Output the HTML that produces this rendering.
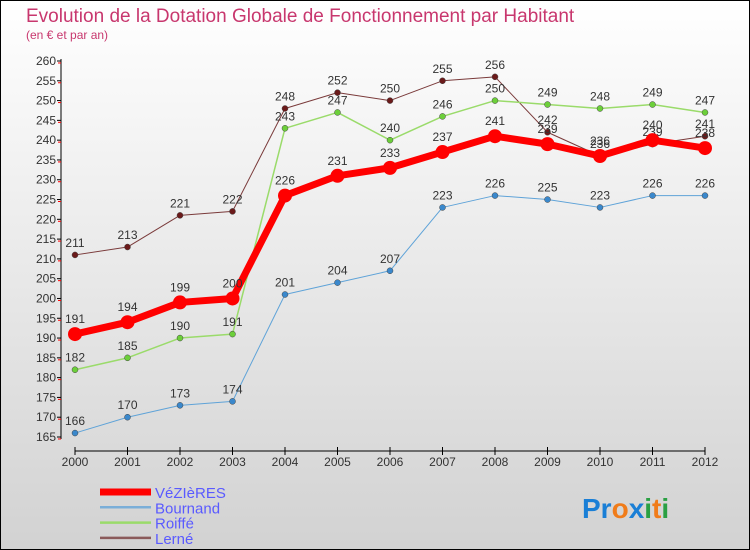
<!DOCTYPE html>
<html><head><meta charset="utf-8"><style>
body{margin:0}
#c{width:750px;height:550px;position:relative;background:linear-gradient(#fff,#d2d2d2);box-sizing:border-box;border:1px solid #000;font-family:"Liberation Sans",sans-serif;overflow:hidden}
</style></head><body>
<div id="c">
<svg id="s" width="750" height="550" style="position:absolute;left:-1px;top:-1px">
<text x="26" y="22" font-size="19" fill="#c8376e">Evolution de la Dotation Globale de Fonctionnement par Habitant</text>
<text x="26" y="39" font-size="12" fill="#c8376e">(en € et par an)</text>
<g id="ax"></g><g id="ser"></g><g id="leg"></g>
<text x="582" y="518" font-size="28" font-weight="bold"><tspan fill="#1a7fd6">Pr</tspan><tspan fill="#f07c1a">o</tspan><tspan fill="#1a7fd6">x</tspan><tspan fill="#2aa043">i</tspan><tspan fill="#f07c1a">t</tspan><tspan fill="#2aa043">i</tspan></text>
</svg></div>
<script>
const years=[2000,2001,2002,2003,2004,2005,2006,2007,2008,2009,2010,2011,2012];
const vezieres=[191,194,199,200,226,231,233,237,241,239,236,240,238];
const bournand=[166,170,173,174,201,204,207,223,226,225,223,226,226];
const roiffe=[182,185,190,191,243,247,240,246,250,249,248,249,247];
const lerne=[211,213,221,222,248,252,250,255,256,242,236,239,241];
const yTicks=[165,170,175,180,185,190,195,200,205,210,215,220,225,230,235,240,245,250,255,260];
const NS="http://www.w3.org/2000/svg";
const X=i=>75+i*(630/12), Y=v=>437-(v-165)*(376/95);
function mk(t,a,p,txt){const e=document.createElementNS(NS,t);for(const k in a)e.setAttribute(k,a[k]);if(txt!==undefined)e.textContent=txt;p.appendChild(e);return e;}
const ax=document.getElementById('ax');
let e=mk('line',{x1:61,y1:59,x2:61,y2:439,stroke:'#000'},ax);

yTicks.forEach(v=>{const y=Y(v);mk('line',{x1:57,y1:y,x2:61,y2:y,stroke:'#000'},ax);
mk('line',{x1:58,y1:y+1.98,x2:61,y2:y+1.98,stroke:'#f00'},ax);
const t=mk('text',{x:56,y:y+4,'font-size':12,fill:'#333','text-anchor':'end'},ax,v);
});
e=mk('line',{x1:75,y1:451,x2:705,y2:451,stroke:'#000'},ax);

years.forEach((yr,i)=>{mk('line',{x1:X(i),y1:447,x2:X(i),y2:455,stroke:'#000'},ax);
const t=mk('text',{x:X(i),y:466,'font-size':12,fill:'#333','text-anchor':'middle'},ax,yr);
});
const series=[['lerne',lerne,'#7a3a3a','#6b1a1a',1,6],['roiffe',roiffe,'#9adb6a','#6ccf3a',1.5,6],['bournand',bournand,'#5fa3d8','#3a88cc',1,6],['vezieres',vezieres,'#ff0000','#ff0000',7,14]];
const ser=document.getElementById('ser');
series.forEach(([n,d,lc,pc,w,r])=>{const g=mk('g',{},ser);

const pl=mk('polyline',{points:d.map((v,i)=>X(i)+','+Y(v)).join(' '),fill:'none',stroke:lc,'stroke-width':w,'stroke-linejoin':'round'},g);

d.forEach((v,i)=>{const c=mk('circle',{cx:X(i),cy:Y(v),r:r/2,fill:pc,stroke:n=='vezieres'?'none':'#444','stroke-width':0.5},g);

const t=mk('text',{x:X(i),y:Y(v)-(n=='vezieres'?11:8),'font-size':12,fill:'#333','text-anchor':'middle'},g,v);
});});
const leg=document.getElementById('leg');
[['VéZIèRES','#ff0000',7],['Bournand','#7aaed8',2.5],['Roiffé','#9adb6a',2.5],['Lerné','#8a5a5a',2.5]].forEach(([n,c,w],i)=>{const y=492+i*15.3;
const g=mk('g',{},leg);
mk('line',{x1:100,y1:y,x2:151,y2:y,stroke:c,'stroke-width':w},g);
mk('text',{x:155,y:y+6,'font-size':15,fill:'#5a5aff'},g,n);});
</script>
</body></html>
